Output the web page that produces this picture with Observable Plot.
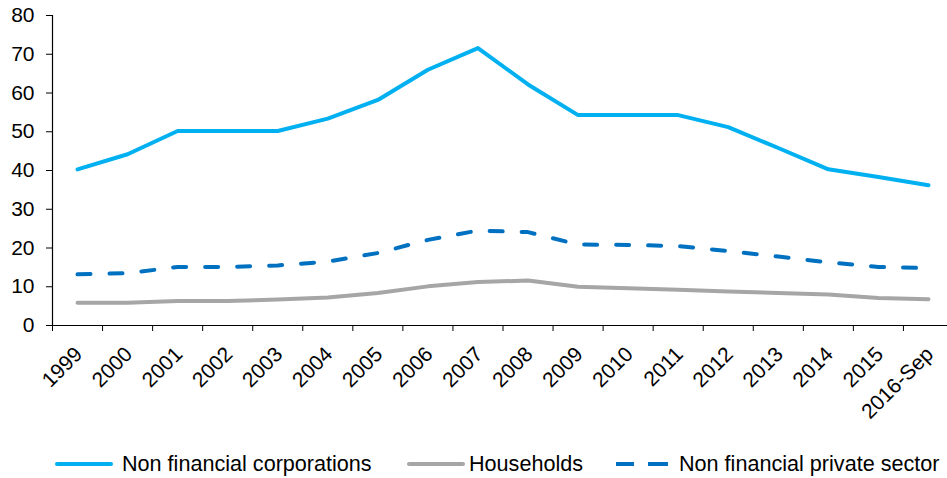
<!DOCTYPE html>
<html><head><meta charset="utf-8">
<script src="https://cdn.jsdelivr.net/npm/d3@7"></script>
<script src="https://cdn.jsdelivr.net/npm/@observablehq/plot@0.6"></script>
<style>
body{margin:0;background:#fff;font-family:"Liberation Sans",Arial,sans-serif;overflow:hidden}
#wrap{position:relative;width:947px;height:478px;background:#fff}
#wrap svg{display:block}
.leg{position:absolute;top:445px;height:38px;display:flex;align-items:center;font-size:21.6px;color:#000;white-space:nowrap}
</style></head><body><div id="wrap"></div>
<script>
const categories = ["1999","2000","2001","2002","2003","2004","2005","2006","2007","2008","2009","2010","2011","2012","2013","2014","2015","2016-Sep"];
const corporations = [40.3,44.2,50.2,50.2,50.2,53.4,58.2,66.0,71.6,62.2,54.3,54.3,54.3,51.2,45.8,40.3,38.3,36.2];
const households = [5.9,5.9,6.3,6.3,6.7,7.2,8.4,10.1,11.2,11.6,10.0,9.6,9.2,8.8,8.4,8.0,7.1,6.8];
const privateSector = [13.2,13.5,15.1,15.1,15.5,16.5,18.7,22.1,24.5,24.1,20.9,20.8,20.5,19.2,17.8,16.3,15.1,14.8];
const seriesNames = ["Non financial corporations","Households","Non financial private sector"];
const yTicks = [0,10,20,30,40,50,60,70,80];

const idx = categories.map((c,i)=>i);
const rows = idx.map(i=>({i, cat: categories[i], corp: corporations[i], hh: households[i], ps: privateSector[i]}));
const boundaries = idx.slice(0,-1).map(i=>i-0.5).concat([categories.length-1.5]);

const font = "Liberation Sans, Arial, sans-serif";
const chart = Plot.plot({
  width: 947, height: 445,
  marginLeft: 52, marginRight: 0, marginTop: 15, marginBottom: 120,
  style: {fontFamily: font, fontSize: "21px", color: "#000", background: "#fff", overflow: "visible"},
  x: {type: "linear", domain: [-0.5, categories.length - 0.5], range: [52, 953]},
  y: {domain: [0, 80], range: [325, 15]},
  marks: [
    Plot.axisY({ticks: yTicks, tickSize: 6, tickPadding: 12, tickFormat: d => String(d), label: null, fontSize: 21, stroke: "#000", strokeOpacity: 1}),
    Plot.axisX({ticks: boundaries, tickSize: 6, tickFormat: () => "", label: null, stroke: "#000", strokeOpacity: 1}),
    Plot.ruleX([-0.5], {y1: 0, y2: 80, stroke: "#000", strokeWidth: 1.2}),
    Plot.ruleY([0], {stroke: "#000", strokeWidth: 1.2}),
    Plot.text(rows, {x: "i", y: () => 0, text: "cat", rotate: -45, textAnchor: "end", lineAnchor: "bottom", dx: 6, dy: 30, fontSize: 21, fill: "#000"}),
    Plot.line(rows, {x: "i", y: "hh", stroke: "#A6A6A6", strokeWidth: 4, strokeLinejoin: "round", strokeLinecap: "round"}),
    Plot.line(rows, {x: "i", y: "ps", stroke: "#0070C0", strokeWidth: 4, strokeDasharray: "13,19", strokeLinecap: "round", strokeLinejoin: "round"}),
    Plot.line(rows, {x: "i", y: "corp", stroke: "#00B0F0", strokeWidth: 4, strokeLinejoin: "round", strokeLinecap: "round"})
  ]
});
const wrap = document.getElementById("wrap");
wrap.appendChild(chart);

const legendItems = [
  {name: seriesNames[0], color: "#00B0F0", dash: null, left: 55, sw: 58, gap: 9},
  {name: seriesNames[1], color: "#A6A6A6", dash: null, left: 407, sw: 58, gap: 4},
  {name: seriesNames[2], color: "#0070C0", dash: "18,14,20", left: 616, sw: 52, gap: 11}
];
legendItems.forEach(it => {
  const d = document.createElement("div");
  d.className = "leg";
  d.style.left = it.left + "px";
  d.style.top = (464 - 19) + "px";
  const ns = "http://www.w3.org/2000/svg";
  const s = document.createElementNS(ns, "svg");
  s.setAttribute("width", it.sw); s.setAttribute("height", 8);
  const l = document.createElementNS(ns, "line");
  l.setAttribute("x1", 2); l.setAttribute("x2", it.sw - 2); l.setAttribute("y1", 4); l.setAttribute("y2", 4);
  l.setAttribute("stroke", it.color); l.setAttribute("stroke-width", 4); l.setAttribute("stroke-linecap", "round");
  if (it.dash) { l.setAttribute("x1", 0); l.setAttribute("x2", it.sw); l.setAttribute("stroke-dasharray", it.dash); l.setAttribute("stroke-linecap", "butt"); }
  s.appendChild(l);
  d.appendChild(s);
  const t = document.createElement("span");
  t.textContent = it.name;
  t.style.marginLeft = it.gap + "px";
  d.appendChild(t);
  wrap.appendChild(d);
});
</script></body></html>
